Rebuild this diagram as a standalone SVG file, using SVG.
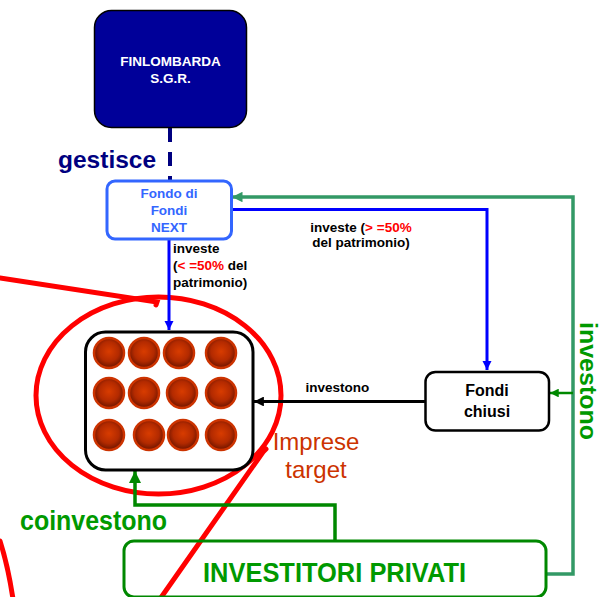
<svg xmlns="http://www.w3.org/2000/svg" width="601" height="597" viewBox="0 0 601 597">
<style>
text{font-family:"Liberation Sans",Arial,sans-serif;font-weight:bold}
.lbl{font-size:13.5px;fill:#000}
.red{fill:#ff0000}
.co{fill:url(#g);stroke:#cc3300;stroke-width:2.5}
.redl{fill:none;stroke:#ff0000;stroke-width:5;stroke-linecap:round}
</style>
<defs>
<radialGradient id="g" cx="50%" cy="45%" r="55%">
<stop offset="0" stop-color="#d83c00"/>
<stop offset="0.6" stop-color="#b32a00"/>
<stop offset="1" stop-color="#6a1400"/>
</radialGradient>
<marker id="ab" viewBox="0 0 10 10" refX="10" refY="5" markerWidth="3" markerHeight="3.2" orient="auto" markerUnits="strokeWidth"><path d="M0,0L10,5L0,10z" fill="#0000ff"/></marker>
<marker id="ak" viewBox="0 0 10 10" refX="10" refY="5" markerWidth="3.3" markerHeight="3.3" orient="auto" markerUnits="strokeWidth"><path d="M0,0L10,5L0,10z" fill="#000"/></marker>
<marker id="ag" viewBox="0 0 10 10" refX="10" refY="5" markerWidth="3.5" markerHeight="3" orient="auto" markerUnits="strokeWidth"><path d="M0,0L10,5L0,10z" fill="#339966"/></marker>
<marker id="ag2" viewBox="0 0 10 10" refX="10" refY="5" markerWidth="3.5" markerHeight="3.5" orient="auto" markerUnits="strokeWidth"><path d="M0,0L10,5L0,10z" fill="#008800"/></marker>
</defs>

<g id="red-marks">
<ellipse cx="158.5" cy="395.5" rx="122.5" ry="98.5" class="redl"/>
<path d="M0,278 L157,302 L156,305" class="redl"/>
<path d="M266,449 L263,452 L160,599" class="redl"/>
<path d="M0,541 Q8,566 13,599" class="redl"/>
</g>

<g id="connectors" fill="none">
<path d="M170,128 V181" stroke="#000080" stroke-width="4" stroke-dasharray="14,10"/>
<path d="M169,240 V330" stroke="#0000ff" stroke-width="3" marker-end="url(#ab)"/>
<path d="M232,209.5 H487 V370" stroke="#0000ff" stroke-width="3" marker-end="url(#ab)"/>
<path d="M425,401.5 H254" stroke="#000" stroke-width="3" marker-end="url(#ak)"/>
<path d="M546,574 H573 V197 H232" stroke="#339966" stroke-width="3.5" marker-end="url(#ag)"/>
<path d="M573,393 H550" stroke="#008800" stroke-width="2.5" marker-end="url(#ag2)"/>
<path d="M335,541 V505 H135 V471" stroke="#008800" stroke-width="3.5" marker-end="url(#ag2)"/>
</g>

<g id="finlombarda">
<rect x="94.5" y="10.5" width="152" height="117" rx="17" fill="#000099" stroke="#000" stroke-width="1.5"/>
<text x="170.5" y="66" font-size="13.5" fill="#fff" text-anchor="middle">FINLOMBARDA</text>
<text x="170.5" y="83" font-size="13.5" fill="#fff" text-anchor="middle">S.G.R.</text>
</g>

<g id="gestisce-label">
<text x="58" y="168" font-size="24.5" fill="#000080">gestisce</text>
</g>

<g id="fondo-next">
<rect x="107" y="181" width="124.5" height="58" rx="8" fill="#fff" stroke="#3366ff" stroke-width="3"/>
<text x="169" y="198" font-size="13.5" fill="#3366ff" text-anchor="middle">Fondo di</text>
<text x="169" y="215" font-size="13.5" fill="#3366ff" text-anchor="middle">Fondi</text>
<text x="169" y="232" font-size="13.5" fill="#3366ff" text-anchor="middle">NEXT</text>
</g>

<g id="label-investe-left">
<text class="lbl" x="173" y="253">investe</text>
<text class="lbl" x="173" y="270">(<tspan class="red">&lt; =50%</tspan> del</text>
<text class="lbl" x="173" y="287">patrimonio)</text>
</g>

<g id="label-investe-right">
<text class="lbl" x="361" y="232" text-anchor="middle">investe (<tspan class="red">&gt; =50%</tspan></text>
<text class="lbl" x="361" y="247" text-anchor="middle">del patrimonio)</text>
</g>

<g id="imprese">
<rect x="85.5" y="332" width="167.5" height="138" rx="20" fill="#fff" stroke="#000" stroke-width="3"/>
<circle class="co" cx="109" cy="353" r="15"/>
<circle class="co" cx="144" cy="353" r="15"/>
<circle class="co" cx="179" cy="353" r="15"/>
<circle class="co" cx="221" cy="353" r="15"/>
<circle class="co" cx="109" cy="393" r="15"/>
<circle class="co" cx="144" cy="393" r="15"/>
<circle class="co" cx="182" cy="393" r="15"/>
<circle class="co" cx="221" cy="393" r="15"/>
<circle class="co" cx="109" cy="435" r="15"/>
<circle class="co" cx="149" cy="435" r="15"/>
<circle class="co" cx="183" cy="435" r="15"/>
<circle class="co" cx="221" cy="435" r="15"/>
</g>

<g id="imprese-label">
<text x="316" y="450" font-size="24" font-weight="normal" style="font-weight:normal" fill="#cc3300" text-anchor="middle">Imprese</text>
<text x="316" y="478" font-size="24" style="font-weight:normal" fill="#cc3300" text-anchor="middle">target</text>
</g>

<g id="label-investono-black">
<text class="lbl" x="305.5" y="392">investono</text>
</g>

<g id="fondi-chiusi">
<rect x="425.5" y="372" width="123.5" height="58.5" rx="10" fill="#fff" stroke="#000" stroke-width="2.5"/>
<text x="487" y="396" font-size="16" text-anchor="middle">Fondi</text>
<text x="487" y="417" font-size="16" text-anchor="middle">chiusi</text>
</g>

<g id="label-investono-green">
<text transform="translate(580,322) rotate(90)" font-size="23" fill="#009900" textLength="118" lengthAdjust="spacingAndGlyphs">investono</text>
</g>

<g id="label-coinvestono">
<text x="20" y="530" font-size="27" fill="#009900" textLength="147" lengthAdjust="spacingAndGlyphs">coinvestono</text>
</g>

<g id="investitori-privati">
<rect x="124" y="541" width="422" height="56" rx="10" fill="none" stroke="#008800" stroke-width="3"/>
<text x="203" y="582" font-size="27" fill="#009900" textLength="263" lengthAdjust="spacingAndGlyphs">INVESTITORI PRIVATI</text>
</g>
</svg>
